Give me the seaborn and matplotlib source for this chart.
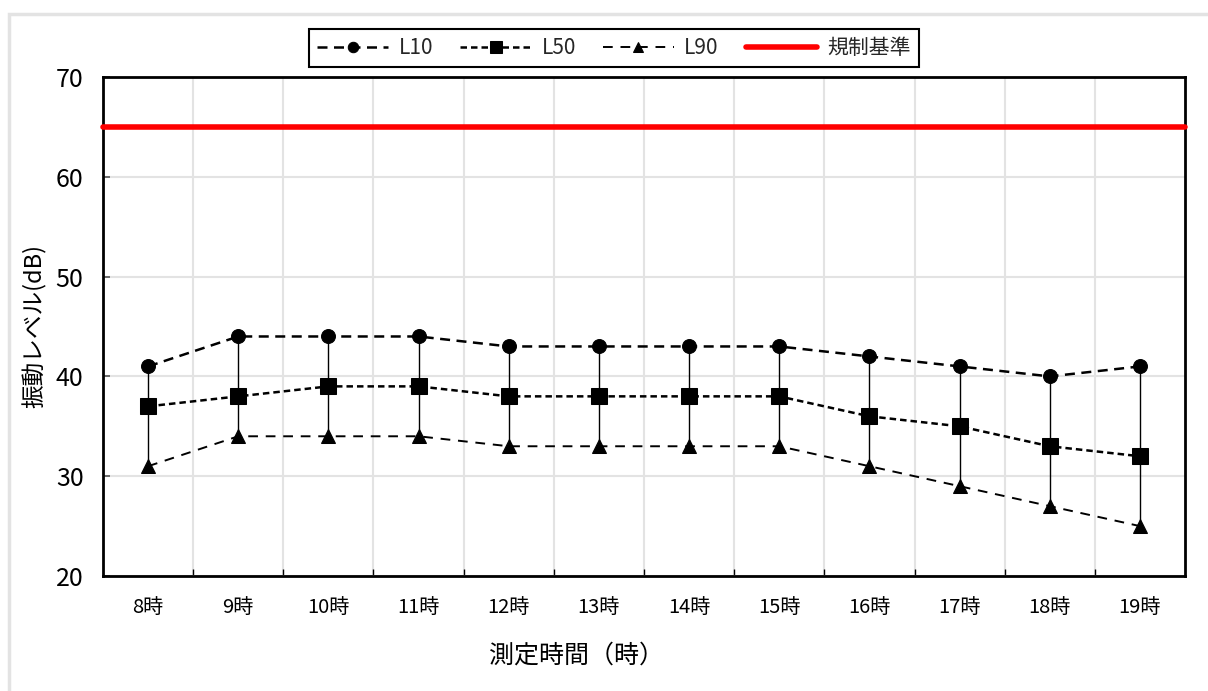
import matplotlib
matplotlib.use("Agg")
import matplotlib.pyplot as plt
import seaborn as sns
import pandas as pd
from matplotlib.patches import Rectangle
from matplotlib.ticker import FixedLocator, MultipleLocator

hours = ["8時", "9時", "10時", "11時", "12時", "13時", "14時", "15時", "16時", "17時", "18時", "19時"]
L10 = [41, 44, 44, 44, 43, 43, 43, 43, 42, 41, 40, 41]
L50 = [37, 38, 39, 39, 38, 38, 38, 38, 36, 35, 33, 32]
L90 = [31, 34, 34, 34, 33, 33, 33, 33, 31, 29, 27, 25]
standard = 65
series_names = ["L10", "L50", "L90"]
standard_label = "規制基準"
xlabel = "測定時間（時）"
ylabel = "振動レベル(dB)"

sns.set_theme(style="white")
plt.rcParams['font.family'] = ['Noto Sans CJK JP', 'DejaVu Sans']

fig = plt.figure(figsize=(12.08, 6.91), dpi=100)
ax = fig.add_axes([103/1208, 1-576/691, (1185-103)/1208, (576-77)/691])

# outer light frame
fig.patches.append(Rectangle((9/1208, -0.05), 1.1, 1-14/691+0.05, transform=fig.transFigure,
                             fill=False, edgecolor="#e3e3e3", linewidth=2.5, zorder=0))

df = pd.DataFrame({"hour": hours, "L10": L10, "L50": L50, "L90": L90})
xpos = list(range(len(hours)))

# connectors L90 -> L10
ax.vlines(xpos, df["L90"], df["L10"], colors="black", linewidth=1.0, zorder=2)

sns.lineplot(x=xpos, y=df["L10"], ax=ax, color="black", marker="o", markersize=10,
             linewidth=1.8, linestyle=(0, (4, 2.6)), markeredgecolor="black", label=series_names[0], zorder=3)
sns.lineplot(x=xpos, y=df["L50"], ax=ax, color="black", marker="s", markersize=11.5,
             linewidth=1.8, linestyle=(0, (2.6, 1.6)), markeredgecolor="black", label=series_names[1], zorder=3)
sns.lineplot(x=xpos, y=df["L90"], ax=ax, color="black", marker="^", markersize=10.5,
             linewidth=1.4, linestyle=(0, (5, 4)), markeredgecolor="black", label=series_names[2], zorder=3)
ax.axhline(standard, color="red", linewidth=4, label=standard_label, zorder=4, clip_on=False)

ax.set_xlim(-0.5, len(hours) - 0.5)
ax.set_ylim(20, 70)
ax.xaxis.set_major_locator(FixedLocator(xpos))
ax.set_xticklabels(hours)
ax.xaxis.set_minor_locator(FixedLocator([i + 0.5 for i in range(len(hours) - 1)]))
ax.yaxis.set_major_locator(MultipleLocator(10))

ax.tick_params(axis="x", which="major", length=0, pad=15, labelsize=14.5, colors="black")
ax.tick_params(axis="x", which="minor", direction="in", length=5, width=1, color="black", bottom=True)
ax.tick_params(axis="y", which="major", direction="in", length=5, width=1.2, color="#555555",
               pad=14, labelsize=18, left=True, labelcolor="black")

ax.grid(False)
ax.grid(True, axis="x", which="minor", color="#e3e3e3", linewidth=1.5, zorder=0)
ax.grid(True, axis="y", which="major", color="#e3e3e3", linewidth=1.5, zorder=0)
ax.set_axisbelow(True)

for s in ax.spines.values():
    s.set_visible(True)
    s.set_color("black")
    s.set_linewidth(2)

ax.set_xlabel(xlabel, fontsize=18, color="black")
ax.set_ylabel(ylabel, fontsize=17, color="black")
ax.xaxis.set_label_coords((576-103)/1082, -(643-576)/499)
ax.yaxis.set_label_coords(-(103-47)/1082, 0.5)

handles, labels = ax.get_legend_handles_labels()
leg = ax.legend(handles, labels, ncol=4, loc="center", bbox_to_anchor=(614/1208, 1-48/691),
                bbox_transform=fig.transFigure, frameon=True, fancybox=False, framealpha=1,
                edgecolor="black", fontsize=15, markerscale=0.75, handlelength=3.4,
                columnspacing=1.3, handletextpad=0.5, borderpad=0.4)
leg.get_frame().set_linewidth(1.5)

fig.savefig("out.png", dpi=100, facecolor="white")
